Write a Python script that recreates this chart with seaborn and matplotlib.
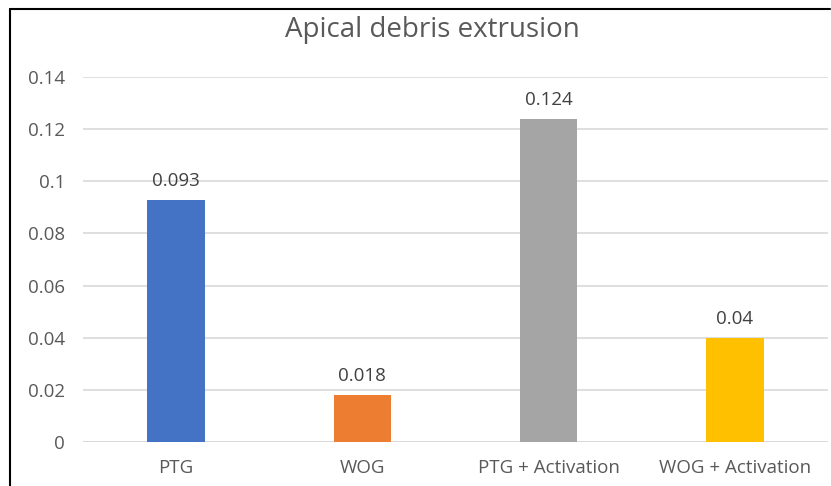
import matplotlib
matplotlib.use("Agg")
import matplotlib.pyplot as plt
import seaborn as sns
import pandas as pd
from matplotlib.lines import Line2D

categories = ["PTG", "WOG", "PTG + Activation", "WOG + Activation"]
values = [0.093, 0.018, 0.124, 0.04]
labels = ["0.093", "0.018", "0.124", "0.04"]
colors = ["#4472C4", "#ED7D31", "#A5A5A5", "#FFC000"]
yticks = [0, 0.02, 0.04, 0.06, 0.08, 0.1, 0.12, 0.14]
ytick_labels = ["0", "0.02", "0.04", "0.06", "0.08", "0.1", "0.12", "0.14"]

sns.set_theme(style="white")
plt.rcParams['font.family'] = ['Open Sans', 'DejaVu Sans']

df = pd.DataFrame({"cat": categories, "val": values})

fig = plt.figure(figsize=(8.31, 4.86), dpi=100)
ax = fig.add_axes([83/831, 1 - 442/486, (828-83)/831, (442-77)/486])

sns.barplot(data=df, x="cat", y="val", hue="cat", palette=colors, legend=False,
            width=0.31, ax=ax, saturation=1, zorder=3, linewidth=0)

ax.set_ylim(0, 0.14)
ax.set_xlim(-0.5, 3.5)
ax.set_yticks(yticks)
ax.set_yticklabels(ytick_labels)
ax.yaxis.grid(True, color="#D9D9D9", linewidth=1.2, zorder=0)
ax.set_axisbelow(True)
for s in ax.spines.values():
    s.set_visible(False)
ax.axhline(0, color="#D9D9D9", linewidth=1.2, zorder=1)
ax.tick_params(axis="both", length=0, labelsize=13.5, labelcolor="#595959")
ax.tick_params(axis="y", pad=13)
ax.tick_params(axis="x", pad=12)
ax.set_xlabel("")
ax.set_ylabel("")

for i, (v, t) in enumerate(zip(values, labels)):
    ax.annotate(t, (i, v), xytext=(0, 7), textcoords="offset points",
                ha="center", va="bottom", fontsize=13.5, color="#404040")

fig.text(432/831, 1 - 30/486, "Apical debris extrusion", ha="center", va="center",
         fontsize=20, color="#595959")

# partial frame (top and left) as in the reference
fig.add_artist(Line2D([10/831, 830/831], [1 - 9/486, 1 - 9/486], color="black", linewidth=1.5))
fig.add_artist(Line2D([10/831, 10/831], [0, 1 - 9/486], color="black", linewidth=1.5))

fig.savefig("out.png", dpi=100)
